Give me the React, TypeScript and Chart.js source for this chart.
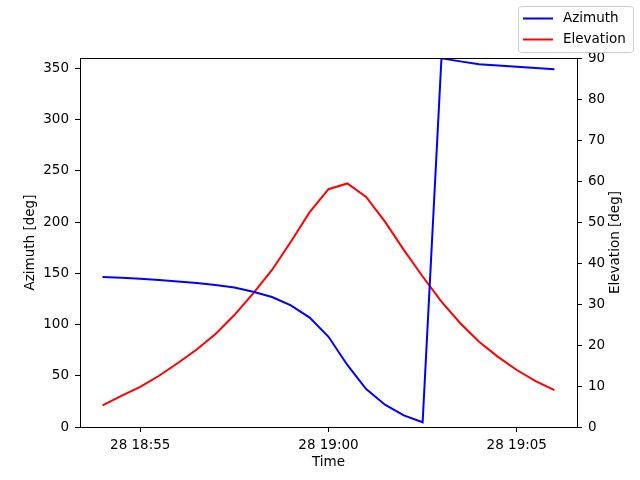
import React, { useEffect, useRef } from 'react';
import { Chart, ChartConfiguration, Plugin, registerables } from 'chart.js';

Chart.register(...registerables);

// sample times (day 28), every 30 s
const times = [
  '18:54:00', '18:54:30', '18:55:00', '18:55:30', '18:56:00', '18:56:30',
  '18:57:00', '18:57:30', '18:58:00', '18:58:30', '18:59:00', '18:59:30',
  '19:00:00', '19:00:30', '19:01:00', '19:01:30', '19:02:00', '19:02:30',
  '19:03:00', '19:03:30', '19:04:00', '19:04:30', '19:05:00', '19:05:30',
  '19:06:00',
];

const azimuth = [
  146.3, 145.7, 144.7, 143.4, 142.0, 140.5, 138.5, 136.0, 132.0, 126.8,
  118.7, 106.7, 88.0, 60.5, 37.0, 21.8, 11.4, 4.6, 359.7, 356.7,
  354.0, 352.8, 351.5, 350.2, 349.0,
];

const elevation = [
  5.3, 7.6, 9.8, 12.5, 15.6, 18.9, 22.7, 27.3, 32.6, 38.3,
  45.2, 52.4, 58.0, 59.4, 56.1, 50.1, 43.2, 36.7, 30.6, 25.3,
  20.8, 17.1, 13.9, 11.2, 9.0,
];

const xTicks = ['18:55', '19:00', '19:05'];
const azTicks = [0, 50, 100, 150, 200, 250, 300, 350];
const elTicks = [0, 10, 20, 30, 40, 50, 60, 70, 80, 90];

const FONT = '"DejaVu Sans", sans-serif';

// minutes since midnight
const toMin = (t: string) => {
  const [h, m, s] = t.split(':').map(Number);
  return h * 60 + m + (s || 0) / 60;
};

const xs = times.map(toMin);
const span = xs[xs.length - 1] - xs[0];
const xMin = xs[0] - span * 0.05;
const xMax = xs[xs.length - 1] + span * 0.05;

const fmtTime = (v: number) => {
  const h = Math.floor(v / 60);
  const m = Math.round(v - h * 60);
  return `28 ${h}:${String(m).padStart(2, '0')}`;
};

const framePlugin: Plugin = {
  id: 'frame',
  afterDraw(chart) {
    const { ctx, chartArea: a } = chart;
    ctx.save();
    ctx.strokeStyle = '#000';
    ctx.lineWidth = 1;
    ctx.strokeRect(Math.round(a.left) + 0.5, Math.round(a.top) + 0.5, Math.round(a.right - a.left), Math.round(a.bottom - a.top));

    // axis titles
    ctx.fillStyle = '#000';
    ctx.font = `13.5px ${FONT}`;
    ctx.textAlign = 'center';
    ctx.textBaseline = 'middle';
    const midY = (a.top + a.bottom) / 2;
    ctx.fillText('Time', (a.left + a.right) / 2, 462);
    ctx.save();
    ctx.translate(30, midY);
    ctx.rotate(-Math.PI / 2);
    ctx.fillText('Azimuth [deg]', 0, 0);
    ctx.restore();
    ctx.save();
    ctx.translate(615, midY);
    ctx.rotate(-Math.PI / 2);
    ctx.fillText('Elevation [deg]', 0, 0);
    ctx.restore();

    // figure legend
    const bx = 518.5, by = 6.5, bw = 115, bh = 46, r = 3;
    ctx.beginPath();
    ctx.moveTo(bx + r, by);
    ctx.arcTo(bx + bw, by, bx + bw, by + bh, r);
    ctx.arcTo(bx + bw, by + bh, bx, by + bh, r);
    ctx.arcTo(bx, by + bh, bx, by, r);
    ctx.arcTo(bx, by, bx + bw, by, r);
    ctx.closePath();
    ctx.fillStyle = 'rgba(255,255,255,0.8)';
    ctx.fill();
    ctx.strokeStyle = '#cccccc';
    ctx.stroke();
    const items: [string, string][] = [['Azimuth', 'blue'], ['Elevation', 'red']];
    items.forEach(([label, color], i) => {
      const y = 18.5 + i * 21;
      ctx.strokeStyle = color;
      ctx.lineWidth = 2;
      ctx.beginPath();
      ctx.moveTo(523, y);
      ctx.lineTo(553, y);
      ctx.stroke();
      ctx.fillStyle = '#000';
      ctx.textAlign = 'left';
      ctx.fillText(label, 563, y);
    });
    ctx.restore();
  },
};

export default function App() {
  const canvasRef = useRef<HTMLCanvasElement>(null);
  const chartRef = useRef<Chart | null>(null);

  useEffect(() => {
    if (!canvasRef.current) return;
    if (chartRef.current) chartRef.current.destroy();

    const tickGrid = {
      drawOnChartArea: false,
      drawTicks: true,
      tickLength: 5,
      tickColor: '#000',
      color: '#000',
    };
    const tickFont = { family: FONT, size: 13.5 };

    const config: ChartConfiguration<'line'> = {
      type: 'line',
      data: {
        datasets: [
          {
            label: 'Azimuth',
            data: xs.map((x, i) => ({ x, y: azimuth[i] })),
            borderColor: 'blue',
            borderWidth: 2,
            pointRadius: 0,
            tension: 0,
            yAxisID: 'y',
          },
          {
            label: 'Elevation',
            data: xs.map((x, i) => ({ x, y: elevation[i] })),
            borderColor: 'red',
            borderWidth: 2,
            pointRadius: 0,
            tension: 0,
            yAxisID: 'y1',
          },
        ],
      },
      options: {
        responsive: false,
        animation: false,
        layout: { padding: { top: 58, left: 0, right: 0, bottom: 0 } },
        plugins: {
          legend: { display: false },
          tooltip: { enabled: false },
        },
        scales: {
          x: {
            type: 'linear',
            min: xMin,
            max: xMax,
            afterBuildTicks: (s) => {
              s.ticks = xTicks.map((t) => ({ value: toMin(t) }));
            },
            afterFit: (s) => {
              s.height = 53;
            },
            grid: tickGrid,
            border: { display: false },
            ticks: {
              color: '#000',
              font: tickFont,
              padding: 5,
              maxRotation: 0,
              callback: (v) => fmtTime(Number(v)),
            },
          },
          y: {
            type: 'linear',
            position: 'left',
            min: 0,
            max: 360,
            afterBuildTicks: (s) => {
              s.ticks = azTicks.map((v) => ({ value: v }));
            },
            afterFit: (s) => {
              s.width = 80;
            },
            grid: tickGrid,
            border: { display: false },
            ticks: { color: '#000', font: tickFont, padding: 6 },
          },
          y1: {
            type: 'linear',
            position: 'right',
            min: 0,
            max: 90,
            afterBuildTicks: (s) => {
              s.ticks = elTicks.map((v) => ({ value: v }));
            },
            afterFit: (s) => {
              s.width = 63;
            },
            grid: tickGrid,
            border: { display: false },
            ticks: { color: '#000', font: tickFont, padding: 6 },
          },
        },
      },
      plugins: [framePlugin],
    };

    chartRef.current = new Chart(canvasRef.current, config);
    return () => {
      if (chartRef.current) {
        chartRef.current.destroy();
        chartRef.current = null;
      }
    };
  }, []);

  return (
    <div style={{ position: 'fixed', left: 0, top: 0, width: 640, height: 480, background: '#fff' }}>
      <canvas ref={canvasRef} width={640} height={480} style={{ width: '640px', height: '480px' }} />
    </div>
  );
}
